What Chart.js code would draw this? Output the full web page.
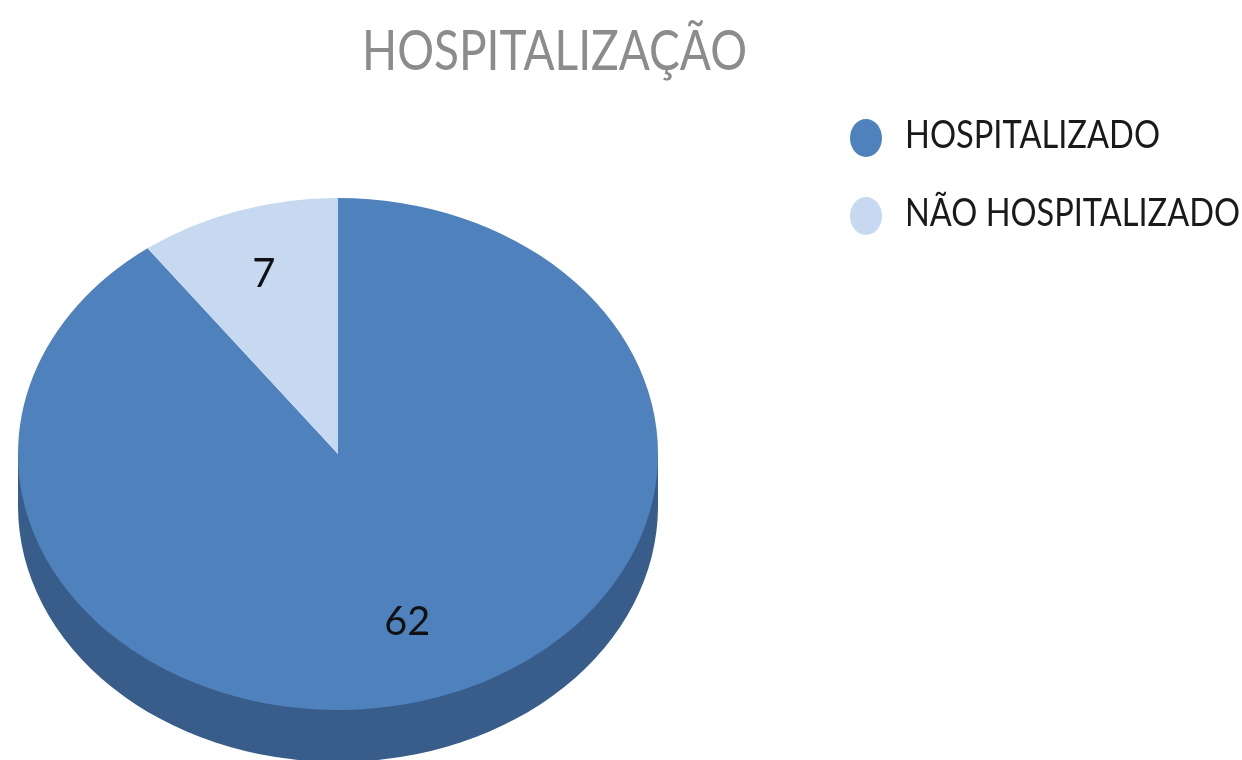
<!DOCTYPE html>
<html lang="pt">
<head>
  <meta charset="UTF-8" />
  <title>Hospitalização</title>
  <script src="https://cdn.jsdelivr.net/npm/chart.js"></script>
  <style>
    body { margin: 0; background: #ffffff; }
    canvas { display: block; }
  </style>
</head>
<body>
  <canvas id="pie" width="1242" height="760"></canvas>

  <script>
    const chartTitle = 'HOSPITALIZAÇÃO';
    const categories = ['HOSPITALIZADO', 'NÃO HOSPITALIZADO'];
    const values = [62, 7];
    const sliceColors = ['#4f81bd', '#c6d9f1'];
    const sideColor = '#385d8a';

    // the pie is drawn as a circle, then squashed to look tilted
    const squash = 0.8;
    const pieCenterY = 454;
    const depth = 52;
    const labelRadius = [0.69, 0.74];

    const tiltedPie = {
      id: 'tiltedPie',
      beforeDatasetsDraw(chart) {
        const ctx = chart.ctx;
        const arc = chart.getDatasetMeta(0).data[0];
        const rx = arc.outerRadius, ry = rx * squash;

        ctx.save();
        ctx.fillStyle = sideColor;
        ctx.beginPath();
        ctx.moveTo(arc.x - rx, pieCenterY);
        ctx.lineTo(arc.x + rx, pieCenterY);
        ctx.lineTo(arc.x + rx, pieCenterY + depth);
        ctx.ellipse(arc.x, pieCenterY + depth, rx, ry, 0, 0, Math.PI);
        ctx.closePath();
        ctx.fill();
        ctx.restore();

        ctx.save();
        ctx.translate(0, pieCenterY);
        ctx.scale(1, squash);
        ctx.translate(0, -arc.y);
      },
      afterDatasetsDraw(chart) {
        const ctx = chart.ctx;
        ctx.restore();

        // value labels, inside each slice
        ctx.save();
        ctx.font = '40px Lato';
        ctx.fillStyle = '#111111';
        ctx.textAlign = 'center';
        ctx.textBaseline = 'middle';
        chart.getDatasetMeta(0).data.forEach((arc, i) => {
          const mid = (arc.startAngle + arc.endAngle) / 2;
          const r = arc.outerRadius * labelRadius[i];
          ctx.fillText(values[i], arc.x + Math.cos(mid) * r, pieCenterY + Math.sin(mid) * r * squash, 46);
        });
        ctx.restore();
      },
      afterDraw(chart) {
        const ctx = chart.ctx;
        ctx.save();
        ctx.textBaseline = 'alphabetic';

        ctx.font = '400 56px Lato';
        ctx.fillStyle = '#8c8c8c';
        ctx.fillText(chartTitle, 362, 70, 385);

        // legend
        const rows = [138, 216];
        const widths = [255, 335];
        ctx.font = '38px Lato';
        categories.forEach((name, i) => {
          ctx.fillStyle = sliceColors[i];
          ctx.beginPath();
          ctx.ellipse(866, rows[i], 16, 19, 0, 0, Math.PI * 2);
          ctx.fill();
          ctx.fillStyle = '#1a1a1a';
          ctx.fillText(name, 905, rows[i] + 10, widths[i]);
        });
        ctx.restore();
      }
    };

    new Chart(document.getElementById('pie').getContext('2d'), {
      type: 'pie',
      data: {
        labels: categories,
        datasets: [{
          data: values,
          backgroundColor: sliceColors,
          borderWidth: 0
        }]
      },
      options: {
        responsive: false,
        animation: false,
        layout: { padding: { left: 18, right: 584, top: 60, bottom: 60 } },
        plugins: {
          legend: { display: false },
          title: { display: false },
          tooltip: { enabled: false }
        }
      },
      plugins: [tiltedPie]
    });
  </script>
</body>
</html>
